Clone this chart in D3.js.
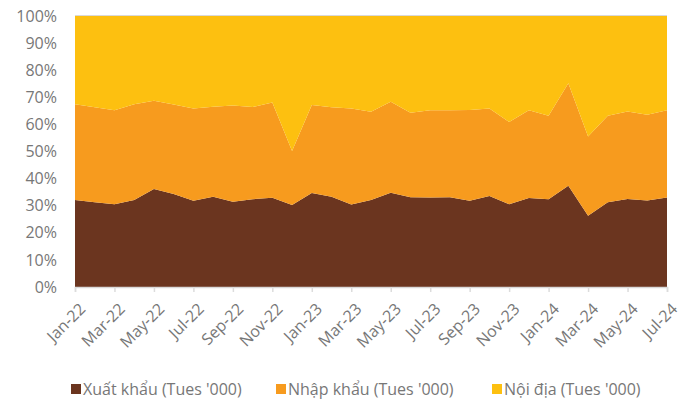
<!DOCTYPE html>
<html><head><meta charset="utf-8">
<script src="https://cdn.jsdelivr.net/npm/d3@7"></script>
<style>body{margin:0;background:#fff}svg{display:block}text{font-family:"Open Sans","Noto Sans",sans-serif}</style>
</head><body><div id="chart"></div>
<script>
const months = ["Jan-22","Feb-22","Mar-22","Apr-22","May-22","Jun-22","Jul-22","Aug-22","Sep-22","Oct-22","Nov-22","Dec-22",
"Jan-23","Feb-23","Mar-23","Apr-23","May-23","Jun-23","Jul-23","Aug-23","Sep-23","Oct-23","Nov-23","Dec-23",
"Jan-24","Feb-24","Mar-24","Apr-24","May-24","Jun-24","Jul-24"];
const exportShare = [32.1,31.3,30.5,32.1,36.2,34.3,31.8,33.3,31.5,32.4,32.9,30.3,34.7,33.3,30.4,32.1,34.8,33.1,33.0,33.1,31.8,33.6,30.5,32.8,32.4,37.4,26.3,31.3,32.5,31.9,33.0];
const totalExpImp = [67.4,66.3,65.2,67.4,68.7,67.3,65.9,66.5,67.0,66.4,68.1,50.2,67.2,66.3,65.9,64.7,68.4,64.3,65.2,65.2,65.3,65.9,60.9,65.2,63.2,75.2,55.5,63.2,64.8,63.6,65.2];
const importShare = totalExpImp.map((t,i)=>+(t-exportShare[i]).toFixed(1));
const domesticShare = totalExpImp.map(t=>+(100-t).toFixed(1));
const seriesNames = ["Xuất khẩu (Tues '000)","Nhập khẩu (Tues '000)","Nội địa (Tues '000)"];
const colors = ["#6B351F","#F79B1E","#FDC010"];
const yTicks = [0,0.1,0.2,0.3,0.4,0.5,0.6,0.7,0.8,0.9,1];

const W=681,H=401, m={l:75,r:14,t:16,b:114};
const svg=d3.select("#chart").append("svg").attr("width",W).attr("height",H);
const data=months.map((mo,i)=>({mo, a:exportShare[i], b:importShare[i], c:domesticShare[i]}));
const stack=d3.stack().keys(["a","b","c"]).offset(d3.stackOffsetExpand);
const layers=stack(data);
const x=d3.scalePoint().domain(months).range([m.l,W-m.r]);
const y=d3.scaleLinear().domain([0,1]).range([H-m.b,m.t]);

svg.append("line").attr("x1",m.l).attr("x2",W-m.r).attr("y1",y(1)-0.5).attr("y2",y(1)-0.5).attr("stroke","#d9d9d9");
const area=d3.area().x(d=>x(d.data.mo)).y0(d=>y(d[0])).y1(d=>y(d[1]));
svg.selectAll("path.layer").data(layers).join("path").attr("class","layer")
  .attr("d",area).attr("fill",(d,i)=>colors[i]);

const txt="#777777";
const yAx=svg.append("g").attr("transform",`translate(${m.l-15},0)`)
  .call(d3.axisLeft(y).tickValues(yTicks).tickFormat(d3.format(".0%")).tickSize(0));
yAx.select(".domain").remove();
yAx.selectAll("text").attr("fill",txt).style("font-size","16px").attr("dx",0);

const xTicks=months.filter((d,i)=>i%2===0);
const xAx=svg.append("g").attr("transform",`translate(0,${H-m.b})`)
  .call(d3.axisBottom(x).tickValues(xTicks).tickSize(5).tickPadding(4));
xAx.select(".domain").attr("stroke","#d9d9d9").attr("stroke-width",1.5);
xAx.selectAll(".tick line").attr("stroke","#dcdcdc").attr("stroke-width",1.5);
xAx.selectAll("text").attr("fill",txt).style("font-size","16px")
  .attr("text-anchor","end").attr("y",0).attr("dy",0)
  .attr("transform","translate(11,23) rotate(-45)");

const legX=[71,276,492];
const leg=svg.append("g").selectAll("g").data(seriesNames).join("g")
  .attr("transform",(d,i)=>`translate(${legX[i]},384)`);
leg.append("rect").attr("width",10).attr("height",10).attr("fill",(d,i)=>colors[i]);
leg.append("text").attr("x",12).attr("y",5).attr("dy","0.35em").text(d=>d)
  .attr("fill",txt).style("font-size","16px");
</script></body></html>
